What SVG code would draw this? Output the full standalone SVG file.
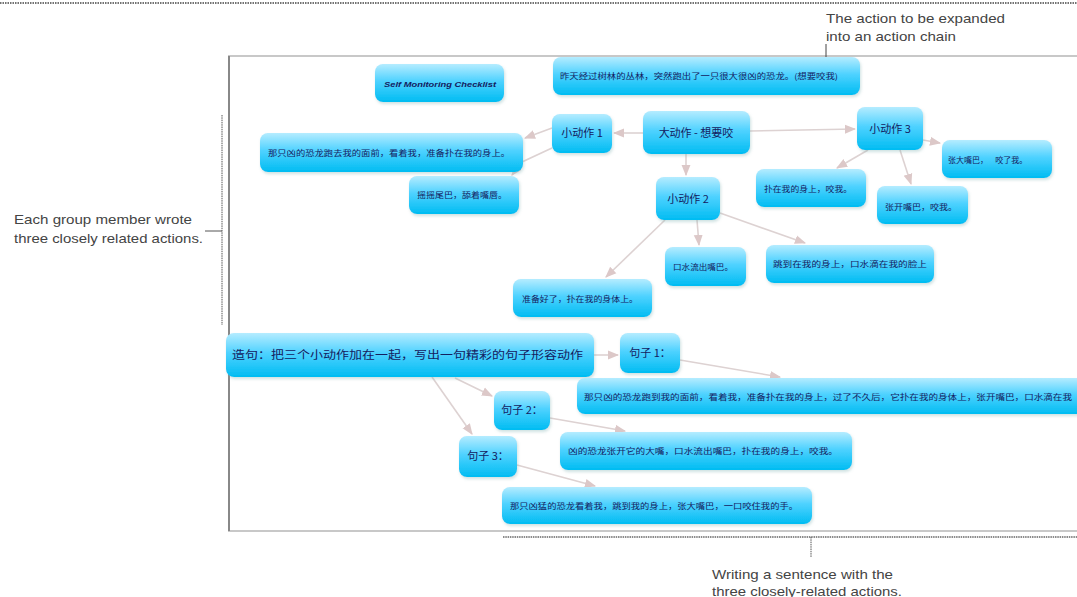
<svg xmlns="http://www.w3.org/2000/svg" width="1077" height="597" viewBox="0 0 1077 597">
<defs>
<linearGradient id="g" x1="0" y1="0" x2="0" y2="1">
<stop offset="0" stop-color="#b5ecff"/>
<stop offset="0.45" stop-color="#4fd2ff"/>
<stop offset="1" stop-color="#00bcf2"/>
</linearGradient>
<filter id="sh" x="-10%" y="-20%" width="120%" height="150%">
<feDropShadow dx="1" dy="2" stdDeviation="1.5" flood-color="#7aa" flood-opacity="0.35"/>
</filter>
<marker id="ar" viewBox="0 0 10 10" refX="9" refY="5" markerWidth="7" markerHeight="7" orient="auto-start-reverse">
<path d="M0,1 L10,5 L0,9 z" fill="#dcc8c8"/>
</marker>
</defs>
<style>
.n{fill:url(#g);filter:url(#sh)}
.t{font-family:"Noto Sans CJK SC","Noto Sans",sans-serif;fill:#142060}
.s{font-size:8px}
.m{font-size:11px;text-anchor:middle}
.c{fill:none;stroke:#ddd2d2;stroke-width:1.6;marker-end:url(#ar)}
.a{font-family:"Liberation Sans",Arial,sans-serif;font-size:13px;fill:#444}
</style>
<rect width="1077" height="597" fill="#fff"/>
<line x1="0" y1="3" x2="1077" y2="3" stroke="#444" stroke-width="1.5" stroke-dasharray="1.5,1"/>
<rect x="229" y="56" width="852" height="475" fill="#fff" stroke="#c8c8c8" stroke-width="2"/>
<line x1="229" y1="56" x2="229" y2="531" stroke="#888" stroke-width="2"/>
<line x1="503" y1="537" x2="1077" y2="537" stroke="#666" stroke-width="1.5" stroke-dasharray="1.5,0.8"/>
<line x1="222" y1="115" x2="222" y2="325" stroke="#555" stroke-width="1" stroke-dasharray="1.5,0.8"/>
<line x1="205" y1="231" x2="222" y2="231" stroke="#555" stroke-width="1"/>
<line x1="826" y1="44" x2="826" y2="70" stroke="#444" stroke-width="1"/>
<line x1="811" y1="537" x2="811" y2="557" stroke="#555" stroke-width="1" stroke-dasharray="1.5,0.8"/>
<g id="annotations">
<text class="a" x="826" y="23" textLength="179" lengthAdjust="spacingAndGlyphs">The action to be expanded</text>
<text class="a" x="826" y="41" textLength="130" lengthAdjust="spacingAndGlyphs">into an action chain</text>
<text class="a" x="14" y="224" textLength="178" lengthAdjust="spacingAndGlyphs">Each group member wrote</text>
<text class="a" x="14" y="243" textLength="189" lengthAdjust="spacingAndGlyphs">three closely related actions.</text>
<text class="a" x="712" y="579" textLength="181" lengthAdjust="spacingAndGlyphs">Writing a sentence with the</text>
<text class="a" x="712" y="596" textLength="190" lengthAdjust="spacingAndGlyphs">three closely-related actions.</text>
</g>
<g id="connectors">
<line class="c" x1="643" y1="133" x2="614" y2="133"/>
<line class="c" x1="750" y1="131" x2="855" y2="129"/>
<line class="c" x1="686" y1="154" x2="686" y2="175"/>
<line class="c" x1="552" y1="128" x2="525" y2="138"/>
<path class="c" d="M552,148 L522,162 L512,175"/>
<line class="c" x1="868" y1="150" x2="837" y2="168"/>
<line class="c" x1="900" y1="150" x2="911" y2="184"/>
<line class="c" x1="923" y1="140" x2="940" y2="143"/>
<line class="c" x1="665" y1="220" x2="606" y2="277"/>
<line class="c" x1="697" y1="220" x2="699" y2="245"/>
<line class="c" x1="720" y1="213" x2="805" y2="243"/>
<line class="c" x1="594" y1="355" x2="618" y2="355"/>
<line class="c" x1="680" y1="360" x2="780" y2="377"/>
<line class="c" x1="455" y1="378" x2="492" y2="396"/>
<line class="c" x1="432" y1="377" x2="472" y2="434"/>
<line class="c" x1="550" y1="418" x2="625" y2="431"/>
<line class="c" x1="517" y1="465" x2="595" y2="486"/>
</g>
<g id="checklist"><rect class="n" x="375" y="64" width="129" height="38" rx="8"/>
<text x="440" y="87" text-anchor="middle" font-family="'Liberation Sans',Arial,sans-serif" font-size="7" font-style="italic" font-weight="bold" fill="#142060" textLength="112" lengthAdjust="spacingAndGlyphs">Self Monitoring Checklist</text></g>
<g id="top"><rect class="n" x="553" y="57" width="307" height="38" rx="8"/>
<text class="t s" x="560" y="79" textLength="278" lengthAdjust="spacingAndGlyphs">昨天经过树林的丛林，突然跑出了一只很大很凶的恐龙。(想要咬我)</text></g>
<g id="big"><rect class="n" x="643" y="111" width="107" height="43" rx="8"/>
<text class="t m" x="696" y="137">大动作 - 想要咬</text></g>
<g id="small1"><rect class="n" x="552" y="114" width="60" height="39" rx="8"/>
<text class="t m" x="582" y="137" font-size="10">小动作 1</text></g>
<g id="small3"><rect class="n" x="857" y="107" width="66" height="43" rx="8"/>
<text class="t m" x="890" y="133">小动作 3</text></g>
<g id="small2"><rect class="n" x="656" y="177" width="64" height="43" rx="8"/>
<text class="t m" x="688" y="203">小动作 2</text></g>
<g id="s1a"><rect class="n" x="260" y="133" width="263" height="39" rx="8"/>
<text class="t s" x="268" y="156" textLength="242" lengthAdjust="spacingAndGlyphs">那只凶的恐龙跑去我的面前，看着我，准备扑在我的身上。</text></g>
<g id="s1b"><rect class="n" x="409" y="176" width="110" height="38" rx="8"/>
<text class="t s" x="417" y="198" textLength="90" lengthAdjust="spacingAndGlyphs">摇摇尾巴，舔着嘴唇。</text></g>
<g id="s3a"><rect class="n" x="756" y="169" width="110" height="38" rx="8"/>
<text class="t s" x="764" y="192" textLength="88" lengthAdjust="spacingAndGlyphs">扑在我的身上，咬我。</text></g>
<g id="s3b"><rect class="n" x="877" y="186" width="91" height="38" rx="8"/>
<text class="t s" x="885" y="210" textLength="72" lengthAdjust="spacingAndGlyphs">张开嘴巴，咬我。</text></g>
<g id="s3c"><rect class="n" x="942" y="140" width="110" height="38" rx="8"/>
<text class="t s" x="948" y="163" xml:space="preserve">张大嘴巴，    咬了我。</text></g>
<g id="s2b"><rect class="n" x="665" y="247" width="81" height="39" rx="8"/>
<text class="t s" x="673" y="270" textLength="60" lengthAdjust="spacingAndGlyphs">口水流出嘴巴。</text></g>
<g id="s2c"><rect class="n" x="766" y="245" width="168" height="38" rx="8"/>
<text class="t s" x="773" y="267" textLength="154" lengthAdjust="spacingAndGlyphs">跳到在我的身上，口水滴在我的脸上</text></g>
<g id="s2a"><rect class="n" x="513" y="279" width="139" height="38" rx="8"/>
<text class="t s" x="522" y="302" textLength="116" lengthAdjust="spacingAndGlyphs">准备好了，扑在我的身体上。</text></g>
<g id="zaoju"><rect class="n" x="226" y="333" width="368" height="44" rx="8"/>
<text class="t" x="232" y="359" font-size="11" textLength="351" lengthAdjust="spacingAndGlyphs">造句：把三个小动作加在一起，写出一句精彩的句子形容动作</text></g>
<g id="j1"><rect class="n" x="620" y="333" width="60" height="40" rx="8"/>
<text class="t m" x="650" y="357" font-size="10">句子 1：</text></g>
<g id="l1"><rect class="n" x="577" y="378" width="520" height="36" rx="8"/>
<text class="t s" x="584" y="400" textLength="488" lengthAdjust="spacingAndGlyphs">那只凶的恐龙跑到我的面前，看着我，准备扑在我的身上，过了不久后，它扑在我的身体上，张开嘴巴，口水滴在我</text></g>
<g id="j2"><rect class="n" x="494" y="391" width="56" height="39" rx="8"/>
<text class="t m" x="522" y="414" font-size="10">句子 2：</text></g>
<g id="l2"><rect class="n" x="560" y="432" width="292" height="38" rx="8"/>
<text class="t s" x="568" y="454" textLength="270" lengthAdjust="spacingAndGlyphs">凶的恐龙张开它的大嘴，口水流出嘴巴，扑在我的身上，咬我。</text></g>
<g id="j3"><rect class="n" x="459" y="436" width="58" height="41" rx="8"/>
<text class="t m" x="488" y="460" font-size="10">句子 3：</text></g>
<g id="l3"><rect class="n" x="502" y="487" width="310" height="37" rx="8"/>
<text class="t s" x="510" y="509" textLength="288" lengthAdjust="spacingAndGlyphs">那只凶猛的恐龙看着我，跳到我的身上，张大嘴巴，一口咬住我的手。</text></g>
</svg>
